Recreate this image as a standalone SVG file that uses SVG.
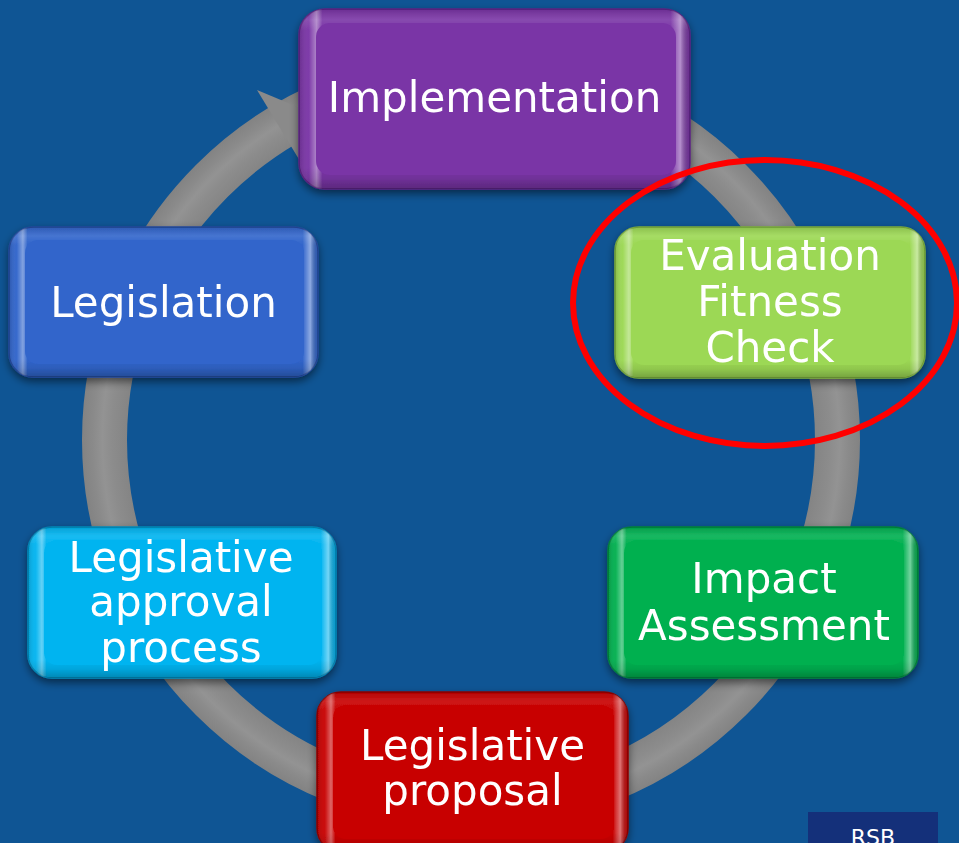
<svg xmlns="http://www.w3.org/2000/svg" width="959" height="843" viewBox="0 0 959 843">
<defs>
  <radialGradient id="ringGrad" gradientUnits="userSpaceOnUse" cx="471" cy="440" r="390">
    <stop offset="0.88" stop-color="#848484"/>
    <stop offset="0.92" stop-color="#8c8c8c"/>
    <stop offset="0.945" stop-color="#939393"/>
    <stop offset="0.97" stop-color="#8a8a8a"/>
    <stop offset="1" stop-color="#828282"/>
  </radialGradient>
  <linearGradient id="bevelH" x1="0" y1="0" x2="1" y2="0">
    <stop offset="0" stop-color="#000" stop-opacity="0.15"/>
    <stop offset="0.025" stop-color="#fff" stop-opacity="0.03"/>
    <stop offset="0.045" stop-color="#fff" stop-opacity="0.4"/>
    <stop offset="0.06" stop-color="#fff" stop-opacity="0"/>
    <stop offset="0.95" stop-color="#fff" stop-opacity="0"/>
    <stop offset="0.975" stop-color="#fff" stop-opacity="0.45"/>
    <stop offset="1" stop-color="#000" stop-opacity="0.12"/>
  </linearGradient>
  <linearGradient id="bevelV" x1="0" y1="0" x2="0" y2="1">
    <stop offset="0" stop-color="#000" stop-opacity="0.12"/>
    <stop offset="0.06" stop-color="#fff" stop-opacity="0.1"/>
    <stop offset="0.12" stop-color="#fff" stop-opacity="0"/>
    <stop offset="0.88" stop-color="#000" stop-opacity="0"/>
    <stop offset="0.94" stop-color="#000" stop-opacity="0.08"/>
    <stop offset="1" stop-color="#000" stop-opacity="0.25"/>
  </linearGradient>
  <filter id="shadow" x="-10%" y="-10%" width="120%" height="130%">
    <feGaussianBlur in="SourceAlpha" stdDeviation="4"/>
    <feOffset dx="0" dy="4" result="b"/>
    <feComponentTransfer><feFuncA type="linear" slope="0.5"/></feComponentTransfer>
    <feMerge><feMergeNode/><feMergeNode in="SourceGraphic"/></feMerge>
  </filter>
  <style>
    .lbl { font-family: "DejaVu Sans", Verdana, sans-serif; font-size: 42px; fill: #ffffff; text-anchor: middle; }
    .edge { stroke-width: 1.5; }
  </style>
</defs>

<rect x="0" y="0" width="959" height="843" fill="#0F5594"/>

<g id="connectors">
  <circle cx="471" cy="440" r="366.5" fill="none" stroke="url(#ringGrad)" stroke-width="45"/>
  <polygon points="257,90 312,113 303,166" fill="#8a8a8a"/>
</g>

<g id="implementation" filter="url(#shadow)">
  <rect x="299" y="9" width="391" height="180" rx="26" fill="#7A35A6" stroke="#5B2382" class="edge"/>
  <rect x="299" y="9" width="391" height="180" rx="26" fill="url(#bevelH)"/>
  <rect x="299" y="9" width="391" height="180" rx="26" fill="url(#bevelV)"/>
  <rect x="316" y="23" width="360" height="152" rx="14" fill="#7A35A6"/>
  <text class="lbl" x="494.5" y="112">Implementation</text>
</g>

<g id="legislation" filter="url(#shadow)">
  <rect x="9" y="227" width="309" height="150" rx="24" fill="#3165CB" stroke="#23489A" class="edge"/>
  <rect x="9" y="227" width="309" height="150" rx="24" fill="url(#bevelH)"/>
  <rect x="9" y="227" width="309" height="150" rx="24" fill="url(#bevelV)"/>
  <rect x="25" y="240" width="279" height="124" rx="13" fill="#3165CB"/>
  <text class="lbl" x="163.5" y="317">Legislation</text>
</g>

<g id="evaluation" filter="url(#shadow)">
  <rect x="615" y="227" width="310" height="151" rx="24" fill="#9CD854" stroke="#78AA3A" class="edge"/>
  <rect x="615" y="227" width="310" height="151" rx="24" fill="url(#bevelH)"/>
  <rect x="615" y="227" width="310" height="151" rx="24" fill="url(#bevelV)"/>
  <rect x="631" y="240" width="280" height="125" rx="13" fill="#9CD854"/>
  <text class="lbl" x="770" y="270">Evaluation</text>
  <text class="lbl" x="770" y="316">Fitness</text>
  <text class="lbl" x="770" y="362">Check</text>
</g>

<g id="impact" filter="url(#shadow)">
  <rect x="608" y="527" width="310" height="151" rx="24" fill="#00B050" stroke="#00843B" class="edge"/>
  <rect x="608" y="527" width="310" height="151" rx="24" fill="url(#bevelH)"/>
  <rect x="608" y="527" width="310" height="151" rx="24" fill="url(#bevelV)"/>
  <rect x="624" y="540" width="280" height="125" rx="13" fill="#00B050"/>
  <text class="lbl" x="764" y="593">Impact</text>
  <text class="lbl" x="764" y="640">Assessment</text>
</g>

<g id="approval" filter="url(#shadow)">
  <rect x="28" y="527" width="308" height="151" rx="24" fill="#00B4F0" stroke="#0088B8" class="edge"/>
  <rect x="28" y="527" width="308" height="151" rx="24" fill="url(#bevelH)"/>
  <rect x="28" y="527" width="308" height="151" rx="24" fill="url(#bevelV)"/>
  <rect x="44" y="540" width="278" height="125" rx="13" fill="#00B4F0"/>
  <text class="lbl" x="181" y="572">Legislative</text>
  <text class="lbl" x="181" y="616">approval</text>
  <text class="lbl" x="181" y="662">process</text>
</g>

<g id="proposal" filter="url(#shadow)">
  <rect x="317" y="692" width="311" height="160" rx="24" fill="#C80000" stroke="#8E0000" class="edge"/>
  <rect x="317" y="692" width="311" height="160" rx="24" fill="url(#bevelH)"/>
  <rect x="317" y="692" width="311" height="160" rx="24" fill="url(#bevelV)"/>
  <rect x="333" y="705" width="281" height="134" rx="13" fill="#C80000"/>
  <text class="lbl" x="472.5" y="760">Legislative</text>
  <text class="lbl" x="472.5" y="805">proposal</text>
</g>

<g id="highlight">
  <ellipse cx="765" cy="303" rx="192" ry="143" fill="none" stroke="#FF0000" stroke-width="6"/>
</g>

<g id="rsb">
  <rect x="808" y="812" width="130" height="40" fill="#14307A"/>
  <text x="873" y="845" font-family="'DejaVu Sans', Verdana, sans-serif" font-size="22" fill="#ffffff" text-anchor="middle">RSB</text>
</g>
</svg>
